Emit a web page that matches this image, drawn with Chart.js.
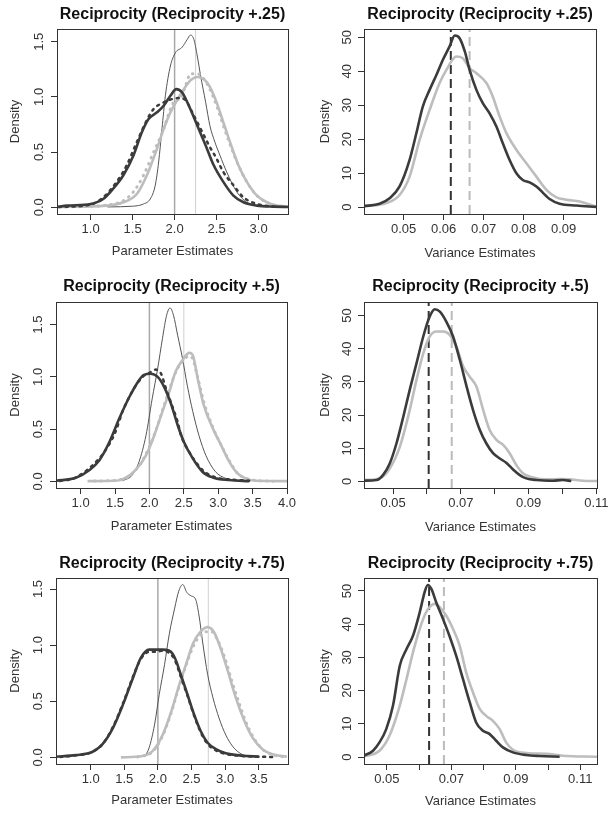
<!DOCTYPE html>
<html>
<head>
<meta charset="utf-8">
<script src="https://cdn.jsdelivr.net/npm/chart.js@4.4.1/dist/chart.umd.min.js"></script>
<style>
  body { margin: 0; background: #fff; width: 615px; height: 816px; position: relative; overflow: hidden; }
  canvas { position: absolute; }
</style>
</head>
<body>
<canvas id="c1" width="300" height="270" style="left:0;top:0"></canvas>
<canvas id="c2" width="315" height="270" style="left:300px;top:0"></canvas>
<canvas id="c3" width="300" height="276" style="left:0;top:270px"></canvas>
<canvas id="c4" width="315" height="276" style="left:300px;top:270px"></canvas>
<canvas id="c5" width="300" height="270" style="left:0;top:546px"></canvas>
<canvas id="c6" width="315" height="270" style="left:300px;top:546px"></canvas>
<script>
// Density curves, as [x, density] pairs

// Reciprocity +.25, parameter estimates
const p1DarkSolid = [[0.6,0.003],[0.72,0.015],[1.0,0.03],[1.15,0.075],[1.27,0.17],[1.39,0.29],[1.51,0.47],[1.61,0.68],[1.69,0.80],[1.79,0.86],[1.87,0.92],[1.95,1.01],[2.02,1.07],[2.09,1.04],[2.17,0.92],[2.27,0.74],[2.37,0.56],[2.46,0.39],[2.58,0.23],[2.70,0.106],[2.82,0.045],[2.98,0.015],[3.18,0.006],[3.35,0.003]];
const p1DarkDash = [[0.62,0.002],[1.0,0.024],[1.15,0.09],[1.31,0.23],[1.43,0.38],[1.55,0.59],[1.67,0.79],[1.75,0.89],[1.87,0.95],[1.97,0.98],[2.05,0.99],[2.13,0.97],[2.21,0.86],[2.31,0.71],[2.41,0.56],[2.50,0.44],[2.58,0.32],[2.70,0.20],[2.82,0.09],[2.98,0.03],[3.18,0.006]];
const p1LightSolid = [[0.6,0.003],[1.19,0.015],[1.39,0.045],[1.55,0.12],[1.67,0.29],[1.79,0.53],[1.87,0.71],[1.95,0.86],[2.03,0.97],[2.11,1.07],[2.19,1.15],[2.27,1.18],[2.35,1.16],[2.42,1.09],[2.50,0.95],[2.58,0.77],[2.66,0.59],[2.76,0.38],[2.86,0.23],[2.98,0.106],[3.10,0.045],[3.22,0.015],[3.35,0.006]];
const p1LightDot = [[0.7,0.003],[1.2,0.02],[1.39,0.06],[1.51,0.14],[1.63,0.29],[1.75,0.50],[1.87,0.71],[1.95,0.89],[2.01,0.97],[2.07,0.98],[2.13,1.10],[2.19,1.21],[2.27,1.21],[2.35,1.16],[2.42,1.07],[2.50,0.92],[2.58,0.74],[2.66,0.57],[2.76,0.38],[2.86,0.23],[2.98,0.106],[3.14,0.03],[3.3,0.005]];
const p1Thin = [[1.2,0.003],[1.51,0.01],[1.63,0.03],[1.71,0.075],[1.77,0.20],[1.81,0.41],[1.85,0.71],[1.89,1.01],[1.95,1.28],[2.01,1.40],[2.09,1.45],[2.15,1.52],[2.19,1.56],[2.23,1.52],[2.27,1.37],[2.31,1.19],[2.37,0.95],[2.42,0.74],[2.48,0.59],[2.54,0.47],[2.62,0.32],[2.74,0.14],[2.86,0.045],[2.98,0.015],[3.10,0.006]];
const p1RefX = [2.0, 2.25];

// Reciprocity +.25, variance estimates
const p2DarkSolid = [[0.0401,0.3],[0.044,1.0],[0.0465,2.6],[0.049,6.1],[0.0515,13.9],[0.0532,21.8],[0.0548,29.6],[0.0565,34.5],[0.0582,38.9],[0.0598,43.3],[0.0615,47.3],[0.0628,50.5],[0.064,49.7],[0.0653,45.8],[0.0665,40.4],[0.0682,34.5],[0.0698,30.6],[0.0715,27.6],[0.0732,23.7],[0.0748,18.8],[0.0765,13.9],[0.0782,10.0],[0.0798,8.0],[0.0815,7.3],[0.0832,6.1],[0.0848,4.3],[0.0865,2.4],[0.089,1.0],[0.0932,0.5],[0.0981,0.1]];
const p2LightSolid = [[0.0401,0.3],[0.0457,1.2],[0.049,3.6],[0.0515,9.0],[0.054,19.8],[0.0565,28.6],[0.059,36.5],[0.0607,40.4],[0.0632,44.3],[0.0648,43.8],[0.0665,40.9],[0.0682,39.4],[0.0707,36.5],[0.0723,32.5],[0.074,26.7],[0.0757,21.8],[0.0782,16.9],[0.0807,12.9],[0.0832,9.0],[0.0857,5.1],[0.0882,2.9],[0.0907,2.2],[0.094,1.7],[0.0981,0.2]];
const p2RefX = [0.0618, 0.0665];

// Reciprocity +.5, parameter estimates
const p3DarkSolid = [[0.64,0.006],[0.93,0.035],[1.13,0.11],[1.27,0.20],[1.42,0.38],[1.56,0.60],[1.71,0.81],[1.83,0.95],[1.92,1.02],[2.02,1.03],[2.12,1.00],[2.21,0.91],[2.31,0.75],[2.41,0.54],[2.50,0.38],[2.63,0.22],[2.77,0.093],[2.92,0.038],[3.16,0.013],[3.45,0.003]];
const p3DarkDash = [[0.7,0.004],[0.93,0.038],[1.27,0.22],[1.42,0.36],[1.51,0.48],[1.61,0.67],[1.75,0.86],[1.90,1.00],[2.0,1.04],[2.09,1.07],[2.17,1.03],[2.24,0.89],[2.31,0.76],[2.41,0.57],[2.46,0.44],[2.58,0.28],[2.77,0.11],[2.96,0.038],[3.18,0.019],[3.45,0.006]];
const p3LightSolid = [[1.1,0.003],[1.51,0.006],[1.66,0.035],[1.80,0.11],[1.95,0.25],[2.07,0.44],[2.19,0.67],[2.29,0.86],[2.38,1.05],[2.48,1.16],[2.58,1.23],[2.64,1.19],[2.70,0.99],[2.79,0.73],[2.92,0.51],[3.04,0.35],[3.16,0.19],[3.28,0.077],[3.40,0.029],[3.54,0.006],[4.0,0.003]];
const p3LightDot = [[1.2,0.004],[1.5,0.01],[1.7,0.05],[1.85,0.15],[2.0,0.33],[2.1,0.50],[2.2,0.70],[2.3,0.90],[2.4,1.07],[2.5,1.16],[2.57,1.20],[2.63,1.17],[2.70,1.00],[2.80,0.74],[2.92,0.52],[3.04,0.35],[3.16,0.20],[3.28,0.08],[3.4,0.03],[3.6,0.006],[3.8,0.002]];
const p3Thin = [[1.61,0.006],[1.75,0.06],[1.85,0.19],[1.95,0.44],[2.04,0.79],[2.12,1.08],[2.19,1.37],[2.25,1.59],[2.30,1.66],[2.35,1.59],[2.41,1.40],[2.48,1.18],[2.55,0.92],[2.63,0.67],[2.72,0.44],[2.82,0.25],[2.96,0.093],[3.11,0.029],[3.25,0.006]];
const p3RefX = [2.0, 2.5];

// Reciprocity +.5, variance estimates
const p4DarkSolid = [[0.0414,0.2],[0.0451,0.4],[0.047,1.9],[0.049,5.4],[0.051,11.5],[0.053,19.5],[0.0549,27.6],[0.0569,35.6],[0.0589,43.7],[0.0608,49.7],[0.0623,51.9],[0.0638,51.2],[0.0657,48.2],[0.0677,43.7],[0.0697,36.6],[0.0717,28.6],[0.0736,21.5],[0.0756,15.5],[0.0775,11.5],[0.0795,8.5],[0.0815,6.9],[0.0834,5.6],[0.0854,3.6],[0.0874,1.9],[0.0893,0.9],[0.0923,0.4],[0.0972,0.2],[0.1001,0.4],[0.1026,0.1]];
const p4LightSolid = [[0.0414,0.4],[0.046,0.9],[0.049,3.9],[0.052,10.5],[0.0549,21.5],[0.0569,30.6],[0.0589,38.6],[0.0608,43.7],[0.0628,45.2],[0.0648,45.2],[0.0667,44.2],[0.0687,40.6],[0.0707,34.6],[0.0726,31.6],[0.0746,28.6],[0.0766,21.5],[0.0785,15.5],[0.0805,12.5],[0.0825,11.0],[0.0844,8.5],[0.0864,4.9],[0.0884,2.4],[0.0913,1.2],[0.0952,0.6],[0.0991,0.7],[0.1021,0.6],[0.106,0.2],[0.1102,0.1]];
const p4RefX = [0.0605, 0.0673];

// Reciprocity +.75, parameter estimates
const p5DarkSolid = [[0.48,0.006],[0.78,0.02],[1.03,0.05],[1.18,0.12],[1.33,0.26],[1.48,0.47],[1.63,0.71],[1.75,0.89],[1.87,0.96],[1.97,0.96],[2.07,0.96],[2.17,0.95],[2.25,0.89],[2.34,0.74],[2.44,0.56],[2.54,0.38],[2.64,0.23],[2.74,0.13],[2.87,0.071],[3.01,0.036],[3.26,0.015],[3.51,0.006]];
const p5DarkDash = [[0.55,0.004],[0.78,0.018],[1.03,0.05],[1.18,0.12],[1.33,0.27],[1.48,0.48],[1.63,0.72],[1.75,0.88],[1.87,0.94],[1.97,0.94],[2.07,0.95],[2.17,0.93],[2.25,0.87],[2.34,0.72],[2.44,0.55],[2.54,0.37],[2.64,0.22],[2.74,0.12],[2.87,0.06],[3.01,0.03],[3.26,0.012],[3.5,0.006],[3.7,0.004]];
const p5LightSolid = [[1.45,0.0],[1.77,0.012],[1.92,0.056],[2.07,0.20],[2.20,0.41],[2.32,0.65],[2.42,0.83],[2.52,1.01],[2.62,1.11],[2.74,1.16],[2.84,1.11],[2.94,0.96],[3.04,0.77],[3.16,0.53],[3.29,0.32],[3.41,0.175],[3.56,0.071],[3.71,0.027],[3.92,0.006]];
const p5LightDot = [[1.7,0.004],[1.92,0.05],[2.07,0.19],[2.20,0.40],[2.32,0.64],[2.42,0.82],[2.52,0.98],[2.62,1.08],[2.72,1.12],[2.80,1.12],[2.90,1.03],[3.00,0.88],[3.10,0.68],[3.20,0.50],[3.30,0.33],[3.42,0.18],[3.56,0.07],[3.70,0.025],[3.85,0.006]];
const p5Thin = [[1.80,0.003],[1.87,0.086],[1.95,0.29],[2.02,0.56],[2.10,0.83],[2.17,1.10],[2.25,1.33],[2.31,1.48],[2.37,1.54],[2.43,1.47],[2.49,1.44],[2.56,1.41],[2.61,1.27],[2.67,1.01],[2.74,0.74],[2.82,0.53],[2.91,0.35],[3.01,0.20],[3.11,0.10],[3.21,0.042],[3.31,0.012]];
const p5RefX = [2.0, 2.75];

// Reciprocity +.75, variance estimates
const p6DarkSolid = [[0.0429,0.4],[0.0457,1.9],[0.0477,4.4],[0.0498,8.4],[0.0519,15.5],[0.054,27.5],[0.0561,32.5],[0.0581,36.5],[0.0602,43.6],[0.0617,49.6],[0.0627,51.8],[0.0638,50.6],[0.0653,46.6],[0.0674,41.6],[0.0694,36.5],[0.0715,30.5],[0.0736,23.5],[0.0757,16.5],[0.0777,10.4],[0.0798,7.9],[0.0819,6.9],[0.0839,4.9],[0.086,2.9],[0.0891,1.4],[0.0932,0.6],[0.0974,0.3],[0.1036,0.1]];
const p6LightSolid = [[0.0429,0.2],[0.0477,1.9],[0.0508,6.4],[0.054,15.5],[0.0561,23.5],[0.0581,31.5],[0.0602,38.6],[0.0622,43.6],[0.0648,46.1],[0.0664,45.1],[0.0684,42.6],[0.0705,38.6],[0.0726,33.5],[0.0746,25.5],[0.0767,19.5],[0.0788,14.5],[0.0808,12.4],[0.0829,10.9],[0.085,8.4],[0.087,4.4],[0.0891,2.2],[0.0932,1.2],[0.0994,1.0],[0.1046,0.4],[0.1152,0.1]];
const p6RefX = [0.0631, 0.0677];

// Tick values and labels
const p1XTicks = [1.0, 1.5, 2.0, 2.5, 3.0];
const p1XLabels = ['1.0', '1.5', '2.0', '2.5', '3.0'];
const p3XTicks = [1.0, 1.5, 2.0, 2.5, 3.0, 3.5, 4.0];
const p3XLabels = ['1.0', '1.5', '2.0', '2.5', '3.0', '3.5', '4.0'];
const p5XTicks = [1.0, 1.5, 2.0, 2.5, 3.0, 3.5];
const p5XLabels = ['1.0', '1.5', '2.0', '2.5', '3.0', '3.5'];
const p2XTicks = [0.05, 0.06, 0.07, 0.08, 0.09];
const p2XLabels = ['0.05', '0.06', '0.07', '0.08', '0.09'];
const wideVarTicks = [0.05, 0.06, 0.07, 0.08, 0.09, 0.10, 0.11];
const wideVarLabels = ['0.05', '', '0.07', '', '0.09', '', '0.11'];
const paramDensityTicks = [0, 0.5, 1.0, 1.5];
const paramDensityLabels = ['0.0', '0.5', '1.0', '1.5'];
const varDensityTicks = [0, 10, 20, 30, 40, 50];
const varDensityLabels = ['0', '10', '20', '30', '40', '50'];

const titles = ['Reciprocity (Reciprocity +.25)', 'Reciprocity (Reciprocity +.25)',
  'Reciprocity (Reciprocity +.5)', 'Reciprocity (Reciprocity +.5)',
  'Reciprocity (Reciprocity +.75)', 'Reciprocity (Reciprocity +.75)'];

const DARK = '#3b3b3b';
const LIGHT = '#bdbdbd';
const THIN = '#555555';

Chart.defaults.font.family = '"Liberation Sans", Arial, Helvetica, sans-serif';

// Panel geometry in page pixels: box = [left, top, right, bottom] of the plot frame
const panels = [
  { id: 'c1', left: 0, top: 0, w: 300, h: 270, box: [57, 29, 288, 214], titleY: 15, xTitleY: 251, yTitleX: 15,
    xLabel: 'Parameter Estimates', xMin: 0.6, xMax: 3.35, yMin: -0.061, yMax: 1.615,
    xTicks: p1XTicks, xLabels: p1XLabels, yTicks: paramDensityTicks, yLabels: paramDensityLabels,
    kind: 'param', s: { darkSolid: p1DarkSolid, darkDash: p1DarkDash, lightSolid: p1LightSolid, lightDot: p1LightDot, thin: p1Thin }, refs: p1RefX },
  { id: 'c2', left: 300, top: 0, w: 315, h: 270, box: [364, 29, 596, 214], titleY: 14.5, xTitleY: 253, yTitleX: 325,
    xLabel: 'Variance Estimates', xMin: 0.0401, xMax: 0.0981, yMin: -2.0, yMax: 52.4,
    xTicks: p2XTicks, xLabels: p2XLabels, yTicks: varDensityTicks, yLabels: varDensityLabels,
    kind: 'var', s: { darkSolid: p2DarkSolid, lightSolid: p2LightSolid }, refs: p2RefX },
  { id: 'c3', left: 0, top: 270, w: 300, h: 276, box: [56, 302, 287, 488], titleY: 287, xTitleY: 526, yTitleX: 15,
    xLabel: 'Parameter Estimates', xMin: 0.642, xMax: 4.0, yMin: -0.063, yMax: 1.717,
    xTicks: p3XTicks, xLabels: p3XLabels, yTicks: paramDensityTicks, yLabels: paramDensityLabels,
    kind: 'param', s: { darkSolid: p3DarkSolid, darkDash: p3DarkDash, lightSolid: p3LightSolid, lightDot: p3LightDot, thin: p3Thin }, refs: p3RefX },
  { id: 'c4', left: 300, top: 270, w: 315, h: 276, box: [364, 302, 597, 488], titleY: 287, xTitleY: 527, yTitleX: 325,
    xLabel: 'Variance Estimates', xMin: 0.0414, xMax: 0.1102, yMin: -2.0, yMax: 54.1,
    xTicks: wideVarTicks, xLabels: wideVarLabels, yTicks: varDensityTicks, yLabels: varDensityLabels,
    kind: 'var', s: { darkSolid: p4DarkSolid, lightSolid: p4LightSolid }, refs: p4RefX },
  { id: 'c5', left: 0, top: 546, w: 300, h: 270, box: [56, 578, 288, 764], titleY: 564, xTitleY: 800, yTitleX: 15,
    xLabel: 'Parameter Estimates', xMin: 0.484, xMax: 3.936, yMin: -0.059, yMax: 1.598,
    xTicks: p5XTicks, xLabels: p5XLabels, yTicks: paramDensityTicks, yLabels: paramDensityLabels,
    kind: 'param', s: { darkSolid: p5DarkSolid, darkDash: p5DarkDash, lightSolid: p5LightSolid, lightDot: p5LightDot, thin: p5Thin }, refs: p5RefX },
  { id: 'c6', left: 300, top: 546, w: 315, h: 270, box: [364, 578, 597, 764], titleY: 564, xTitleY: 801, yTitleX: 325,
    xLabel: 'Variance Estimates', xMin: 0.0429, xMax: 0.1152, yMin: -2.1, yMax: 53.9,
    xTicks: wideVarTicks, xLabels: wideVarLabels, yTicks: varDensityTicks, yLabels: varDensityLabels,
    kind: 'var', s: { darkSolid: p6DarkSolid, lightSolid: p6LightSolid }, refs: p6RefX }
];

function curve(pts, color, width, dash) {
  return {
    data: pts.map(p => ({ x: p[0], y: p[1] })),
    borderColor: color, borderWidth: width, borderDash: dash || [],
    borderCapStyle: dash ? 'round' : 'butt',
    pointRadius: 0, fill: false, cubicInterpolationMode: 'monotone',
    xAxisID: 'x', yAxisID: 'y'
  };
}

// vertical reference line spanning the whole frame
function vline(x, p, color, width, dash) {
  return {
    data: [{ x: x, y: p.yMin }, { x: x, y: p.yMax }],
    borderColor: color, borderWidth: width, borderDash: dash || [],
    pointRadius: 0, fill: false, tension: 0,
    xAxisID: 'x', yAxisID: 'y'
  };
}

function buildDatasets(p) {
  if (p.kind === 'param') {
    return [
      curve(p.s.darkDash, DARK, 2.5, [2, 5]),
      curve(p.s.darkSolid, DARK, 2.6),
      curve(p.s.lightDot, LIGHT, 3, [0.5, 6]),
      curve(p.s.lightSolid, LIGHT, 2.6),
      curve(p.s.thin, THIN, 1),
      vline(p.refs[0], p, '#a8a8a8', 1.5),
      vline(p.refs[1], p, '#d0d0d0', 1)
    ];
  }
  return [
    curve(p.s.darkSolid, DARK, 2.6),
    curve(p.s.lightSolid, LIGHT, 2.6),
    vline(p.refs[0], p, '#333333', 2, [9, 5]),
    vline(p.refs[1], p, '#bbbbbb', 2, [9, 5])
  ];
}

const framePlugin = {
  id: 'frame',
  afterDraw(chart) {
    const { ctx, chartArea: a } = chart;
    ctx.save();
    ctx.strokeStyle = '#333';
    ctx.lineWidth = 1;
    ctx.strokeRect(a.left + 0.5, a.top + 0.5, a.right - a.left, a.bottom - a.top);
    ctx.restore();
  }
};

panels.forEach((p, k) => {
  new Chart(document.getElementById(p.id), {
    type: 'line',
    data: { datasets: buildDatasets(p) },
    plugins: [framePlugin],
    options: {
      responsive: false,
      animation: false,
      events: [],
      layout: { padding: { left: 0, top: 0, bottom: 0, right: p.left + p.w - p.box[2] } },
      plugins: { legend: { display: false }, tooltip: { enabled: false } },
      scales: {
        t: {
          type: 'linear', position: 'top',
          ticks: { display: false }, grid: { display: false }, border: { display: false },
          title: { display: true, text: titles[k], color: '#111', font: { size: 16, weight: 'bold' },
                   padding: { top: p.titleY - p.top - 9.6, bottom: 0 } },
          afterFit: s => { s.height = p.box[1] - p.top; }
        },
        x: {
          type: 'linear', position: 'bottom', min: p.xMin, max: p.xMax,
          afterBuildTicks: s => { s.ticks = p.xTicks.map(v => ({ value: v })); },
          ticks: { autoSkip: false, minRotation: 0, maxRotation: 0, padding: 2, color: '#333',
                   font: { size: 13 }, callback: (v, i) => p.xLabels[i] },
          grid: { drawOnChartArea: false, drawTicks: true, tickLength: 6, color: '#333', lineWidth: 1 },
          border: { display: false },
          title: { display: true, text: p.xLabel, color: '#333', font: { size: 13 },
                   padding: { top: 0, bottom: p.top + p.h - p.xTitleY - 7.8 } },
          afterFit: s => { s.height = p.top + p.h - p.box[3]; }
        },
        y: {
          type: 'linear', position: 'left', min: p.yMin, max: p.yMax,
          afterBuildTicks: s => { s.ticks = p.yTicks.map(v => ({ value: v })); },
          ticks: { autoSkip: false, minRotation: 90, maxRotation: 90, crossAlign: 'center', padding: 3,
                   color: '#333', font: { size: 13 }, callback: (v, i) => p.yLabels[i] },
          grid: { drawOnChartArea: false, drawTicks: true, tickLength: 6, color: '#333', lineWidth: 1 },
          border: { display: false },
          title: { display: true, text: 'Density', color: '#333', font: { size: 13 },
                   padding: { top: p.yTitleX - p.left - 7.8, bottom: 0 } },
          afterFit: s => { s.width = p.box[0] - p.left; }
        }
      }
    }
  });
});
</script>
</body>
</html>
